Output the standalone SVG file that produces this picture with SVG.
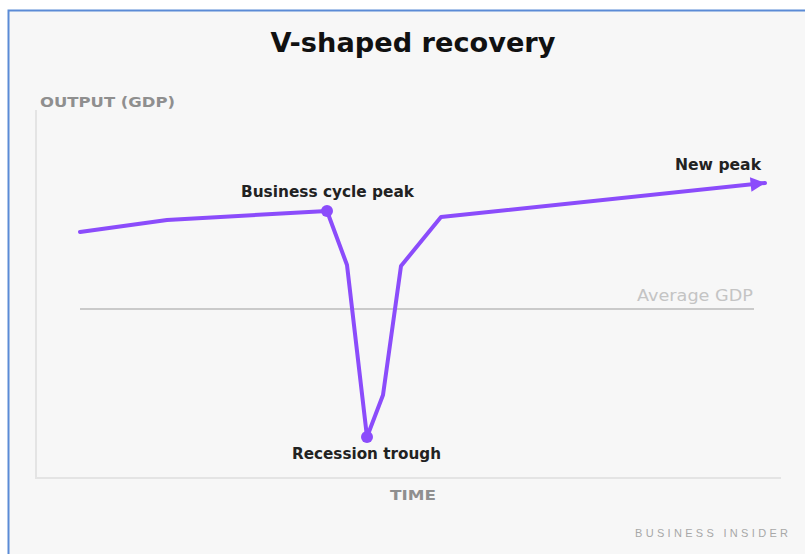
<svg xmlns="http://www.w3.org/2000/svg" width="805" height="554" viewBox="0 0 805 554">
<defs>
<style>
.t{font-family:"DejaVu Sans","Liberation Sans",sans-serif;font-weight:bold}
.lbl{font-size:15px;fill:#222}
.ax{font-size:14px;fill:#8f8f8f}
.grid{stroke:#e4e4e4;stroke-width:2;fill:none}
.curve{stroke:#8b4cfb;stroke-width:4;fill:none;stroke-linejoin:round;stroke-linecap:round}
.dot{fill:#8b4cfb}
</style>
<marker id="arr" viewBox="0 0 10 10" refX="10" refY="5" markerWidth="4" markerHeight="3.6" markerUnits="strokeWidth" orient="auto">
<path d="M0,0 L10,5 L0,10 z" fill="#8b4cfb"/>
</marker>
</defs>
<rect x="0" y="0" width="805" height="554" fill="#ffffff"/>
<rect x="8.5" y="10.5" width="805" height="560" fill="#f7f7f7" stroke="#5b8bd6" stroke-width="2"/>
<text class="t" x="413" y="52" font-size="27" text-anchor="middle" fill="#111" textLength="285" lengthAdjust="spacingAndGlyphs">V-shaped recovery</text>
<g id="axes">
<path class="grid" d="M36,110 V478 H781"/>
<text class="t ax" x="40" y="107" textLength="135" lengthAdjust="spacingAndGlyphs">OUTPUT (GDP)</text>
<text class="t ax" x="413" y="500" text-anchor="middle" textLength="46" lengthAdjust="spacingAndGlyphs">TIME</text>
</g>
<g id="average">
<line x1="80" y1="309" x2="754" y2="309" stroke="#cacaca" stroke-width="2"/>
<text x="753" y="301" font-family="'DejaVu Sans','Liberation Sans',sans-serif" font-size="15.5" text-anchor="end" fill="#c4c4c4" textLength="116" lengthAdjust="spacingAndGlyphs">Average GDP</text>
</g>
<g id="connectors">
<polyline class="curve" points="80,232 167,220 327,211 347,265 367,437 383,395 401,266 441,217 765,183" marker-end="url(#arr)"/>
</g>
<g id="peak">
<circle class="dot" cx="327" cy="211" r="6"/>
<text class="t lbl" x="241" y="197" textLength="173" lengthAdjust="spacingAndGlyphs">Business cycle peak</text>
</g>
<g id="trough">
<circle class="dot" cx="367" cy="437" r="6"/>
<text class="t lbl" x="292" y="459" textLength="149" lengthAdjust="spacingAndGlyphs">Recession trough</text>
</g>
<g id="newpeak">
<text class="t lbl" x="675" y="170" textLength="86" lengthAdjust="spacingAndGlyphs">New peak</text>
</g>
<text x="788" y="537" font-family="'Liberation Sans',Arial,sans-serif" font-size="11" fill="#a8a8a8" text-anchor="end" textLength="153" lengthAdjust="spacing">BUSINESS INSIDER</text>
</svg>
